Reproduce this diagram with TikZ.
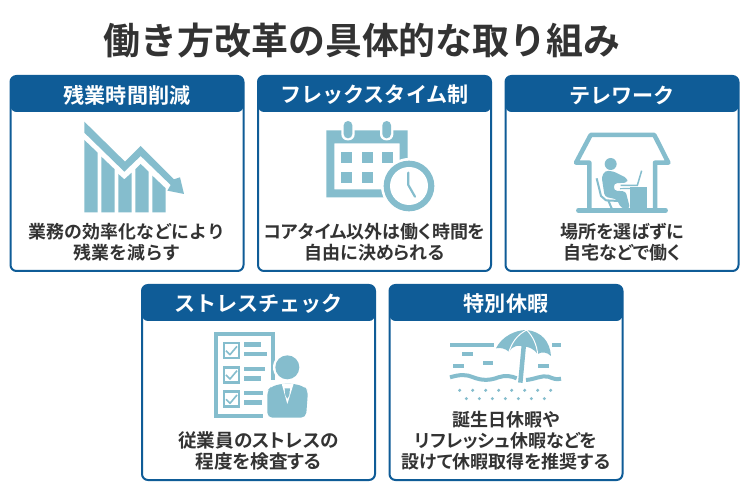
\documentclass[tikz,border=0pt]{standalone}
\usepackage{fontspec}
\newfontfamily\jpfont{Noto Sans CJK JP}[BoldFont={* Bold}]
\newfontfamily\jpbody{Noto Sans CJK JP}[BoldFont={* Bold},RawFeature=+palt]
\usepackage{tikz}
\definecolor{headblue}{HTML}{0F5C97}
\definecolor{iconblue}{HTML}{85BDCD}
\definecolor{inktext}{HTML}{333333}
\tikzset{
  cardbox/.style={draw=headblue,line width=2pt,fill=white,rounded corners=6pt,anchor=north west,
    minimum width=233pt,minimum height=195pt,inner sep=0pt,outer sep=0pt,
    path picture={\fill[headblue] (path picture bounding box.north west) rectangle ([yshift=-36pt]path picture bounding box.north east);}},
  cardtitle/.style={font=\jpfont\bfseries\fontsize{21.1}{24}\selectfont,text=white,inner sep=0pt},
  cardtext/.style={text=inktext,align=center,anchor=south,inner sep=0pt},
  evenkana/.style={font=\jpfont\bfseries\fontsize{17.9}{21}\selectfont},
  tightkana/.style={font=\jpbody\bfseries\fontsize{18}{21}\selectfont},
  widekana/.style={font=\jpbody\bfseries\fontsize{18.6}{21}\selectfont},
  bigtitle/.style={font=\jpfont\bfseries\fontsize{36.9}{40}\selectfont,text=inktext,inner sep=0pt}
}
\begin{document}
\begin{tikzpicture}[x=1pt,y=-1pt]
\useasboundingbox[fill=white] (0,0) rectangle (750,494);
\node[bigtitle] (heading) at (362,41) {働き方改革の具体的な取り組み};
\foreach \name/\px/\py/\look/\head/\body in {
  overtime/10.5/76/evenkana/残業時間削減/{業務の効率化などにより\\残業を減らす},
  flextime/258/76/tightkana/フレックスタイム制/{コアタイム以外は働く時間を\\自由に決められる},
  telework/505.5/76/tightkana/テレワーク/{場所を選ばずに\\自宅などで働く},
  stress/142/285/widekana/ストレスチェック/{従業員のストレスの\\程度を検査する},
  holiday/389.5/285/tightkana/特別休暇/{誕生日休暇や\\リフレッシュ休暇などを\\設けて休暇取得を推奨する}}
{
  \node[cardbox] (\name) at (\px,\py) {};
  \node[cardtitle] (\name title) at ([yshift=-19pt]\name.north) {\head};
  \node[cardtext,\look] (\name text) at ([yshift=10pt]\name.south) {\body};
}
% falling chart
\begin{scope}[shift={(0,70)},scale=1/3]
\fill[iconblue] (253,155) -- (375,275) -- (422,228) -- (522,328) -- (540,322) -- (552,372) -- (502,362) -- (512,345) -- (422,258) -- (373,305) -- (253,188) -- cycle;
\fill[iconblue] (253,210) -- (293,248) -- (293,427) -- (253,427) -- cycle;
\fill[iconblue] (304,260) -- (344,298) -- (344,427) -- (304,427) -- cycle;
\fill[iconblue] (355,312) -- (373,328) -- (395,308) -- (395,427) -- (355,427) -- cycle;
\fill[iconblue] (406,298) -- (422,282) -- (446,305) -- (446,427) -- (406,427) -- cycle;
\fill[iconblue] (457,317) -- (497,355) -- (497,427) -- (457,427) -- cycle;
\end{scope}
% calendar and clock
\begin{scope}[shift={(250,70)},scale=1/3]
\fill[iconblue,even odd rule] (229,181) rectangle (473,382) (253,220) rectangle (449,358);
\foreach \rx in {281,397}{
  \fill[white,rounded corners=6pt] (\rx-7,147) rectangle (\rx+33,211);
  \fill[iconblue,rounded corners=4.3pt] (\rx,153) rectangle (\rx+26,205);
}
\foreach \sx/\sy in {273/246,335/246,396/246,273/305,335/305}
  \fill[iconblue] (\sx,\sy) rectangle (\sx+33,\sy+33);
\fill[white] (477,348) circle (84);
\fill[iconblue] (477,348) circle (76);
\fill[white] (477,348) circle (57);
\draw[iconblue,line width=2.2pt,line cap=round,line join=round] (475,308) -- (475,345) -- (495,380);
\end{scope}
% house and desk
\begin{scope}[shift={(500,70)},scale=1/3]
\draw[iconblue,line width=4.5pt,line join=round] (268,415) -- (268,278) -- (228,278) -- (272,195) -- (463,195) -- (505,278) -- (465,278) -- (465,415);
\draw[iconblue,line width=4.5pt,line cap=round] (235,421) -- (497,421);
\fill[iconblue] (332,282) circle (18);
\fill[iconblue,rounded corners=3pt] (305,320) -- (316,302) -- (340,304) -- (382,325) -- (382,338) -- (342,340) -- (342,362) -- (377,364) -- (390,415) -- (364,415) -- (350,388) -- (314,380) -- cycle;
\fill[iconblue] (390,352) rectangle (440,415);
\draw[iconblue,line width=1.5pt] (362,346) -- (412,346) -- (425,302);
\draw[iconblue,line width=1.2pt] (360,356) -- (440,354);
\draw[iconblue,line width=2pt,line join=round] (290,325) -- (303,378) -- (318,391) -- (355,393) (325,392) -- (335,415);
\end{scope}
% check sheet and person
\begin{scope}[shift={(135,280)},scale=1/3]
\draw[iconblue,line width=4pt] (243,161) rectangle (415,407);
\foreach \cy/\wa/\wb in {185/51/69,258/63/51,331/57/55}{
  \draw[iconblue,line width=2.4pt] (267,\cy+4) rectangle (312,\cy+49);
  \draw[iconblue,line width=1.6pt,line join=round] (273,\cy+27) -- (285,\cy+39) -- (306,\cy+14);
  \fill[iconblue] (327,\cy+2) rectangle (327+\wa,\cy+15);
  \fill[iconblue] (327,\cy+30) rectangle (327+\wb,\cy+44);
}
\fill[white] (457,262) circle (43);
\fill[white] (385,300) rectangle (530,425);
\draw[iconblue,line width=4pt] (243,300) -- (243,407) -- (385,407);
\fill[iconblue] (457,262) circle (36);
\fill[iconblue,rounded corners=5pt] (397,413) -- (397,332) -- (408,320) -- (440,311) -- (476,311) -- (508,320) -- (519,332) -- (513,413) -- cycle;
\fill[white] (440,311) -- (476,311) -- (457,372) -- cycle;
\fill[iconblue] (449,325) -- (465,325) -- (463,346) -- (457,356) -- (451,346) -- cycle;
\end{scope}
% beach and umbrella
\begin{scope}[shift={(385,280)},scale=1/3]
\foreach \lx/\ly/\lw in {195/194/133,497/194/31,232/222/32,295/250/28,205/259/31,458/259/34,462/233/36}
  \fill[iconblue] (\lx,\ly-6) rectangle (\lx+\lw,\ly+6);
\fill[white] (333,160) rectangle (500,240);
\fill[iconblue] (333,205) .. controls (350,170) and (390,150) .. (425,150) .. controls (470,155) and (495,185) .. (498,228) .. controls (485,215) and (470,215) .. (458,222) .. controls (445,205) and (430,200) .. (417,200) .. controls (400,195) and (385,195) .. (372,215) .. controls (360,205) and (345,202) .. (333,205) -- cycle;
\draw[white,line width=1pt] (425,150) .. controls (395,165) and (380,190) .. (372,215) (425,150) .. controls (445,170) and (455,195) .. (458,222);
\draw[iconblue,line width=4.5pt] (417,190) -- (406,308);
\draw[iconblue,line width=4pt] (195,292) .. controls (225,283) and (245,283) .. (265,292) .. controls (290,302) and (315,302) .. (340,292) .. controls (360,285) and (380,288) .. (395,295);
\draw[iconblue,line width=4pt] (423,300) .. controls (450,298) and (470,285) .. (490,290) .. controls (505,296) and (515,300) .. (528,296);
\foreach \dx in {224,263,...,498} \fill[iconblue] (\dx,331) circle (5);
\foreach \dx in {244,283,...,478} \fill[iconblue] (\dx,356) circle (5);
\end{scope}
\end{tikzpicture}
\end{document}
